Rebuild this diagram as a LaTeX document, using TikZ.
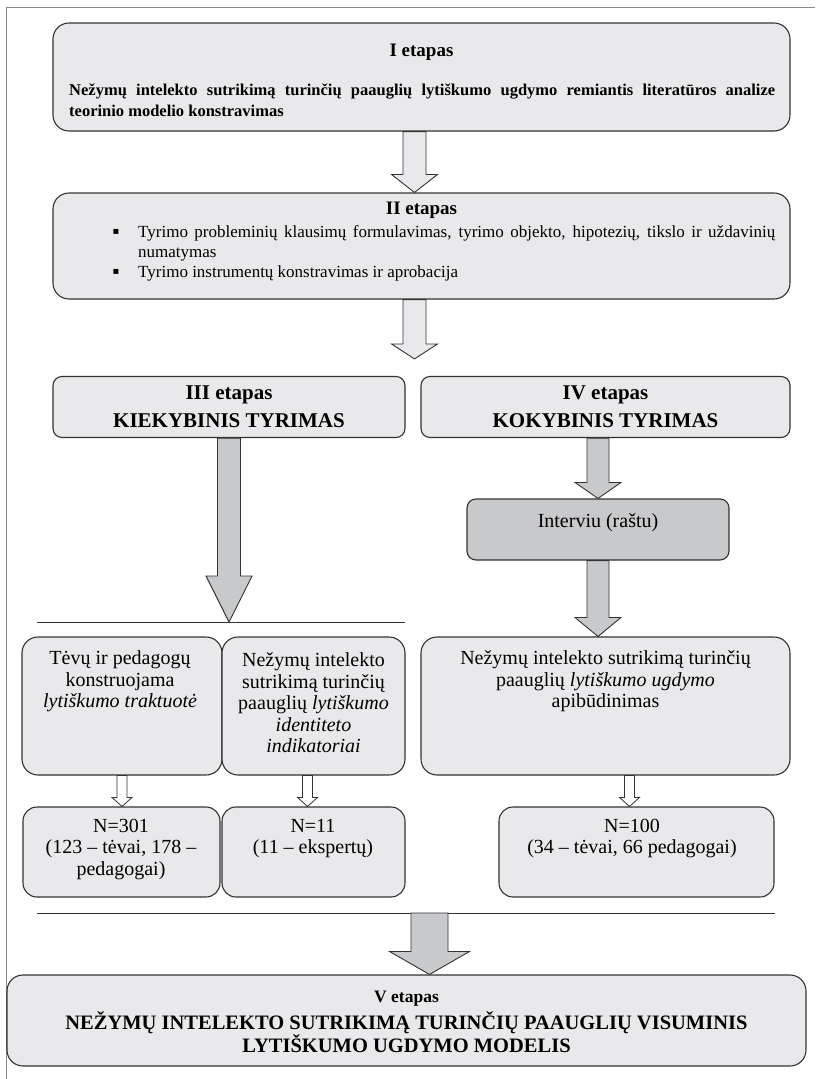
\documentclass[tikz,border=0pt]{standalone}
\usepackage{fontspec}
\setmainfont{Liberation Serif}
\newfontfamily\dejavu{DejaVu Sans}
\usetikzlibrary{calc}
\definecolor{boxfill}{HTML}{E9E9EB}
\definecolor{darkfill}{HTML}{C8C9CB}
\definecolor{edge}{HTML}{333333}
\definecolor{framec}{HTML}{8A8A8A}
\newcommand\blockarr[6]{%
  \draw[#1] let \p1=#2, \p2=#3 in
    (\x1-#4,\y1) -- (\x1-#4,\y2+#6) -- (\x1-#5,\y2+#6) -- (\x1,\y2)
    -- (\x1+#5,\y2+#6) -- (\x1+#4,\y2+#6) -- (\x1+#4,\y1) -- cycle;}
\begin{document}
\begin{tikzpicture}[x=1pt,y=-1pt,
  box/.style={draw=edge, fill=boxfill, line width=1.1pt, rounded corners=16pt, inner sep=0pt},
  sbox/.style={box, rounded corners=9pt},
  dbox/.style={box, fill=darkfill, rounded corners=9pt},
  lightarr/.style={draw=edge, fill=boxfill, line width=0.9pt},
  grayarr/.style={draw=edge, fill=darkfill, line width=0.9pt},
  whitearr/.style={draw=edge, fill=white, line width=0.8pt},
  rule/.style={draw=black!80, line width=1pt},
  titlef/.style={font=\bfseries\fontsize{19}{22}\selectfont, inner sep=0pt},
  bigtitle/.style={font=\bfseries\fontsize{21}{28}\selectfont, inner sep=0pt, align=center},
  bodyf/.style={font=\fontsize{20}{21.5}\selectfont, inner sep=0pt, align=center},
]
\useasboundingbox (0,0) rectangle (815,1079);
% page frame
\draw[framec, line width=1pt] (815,7) -- (6,7) -- (6,1079);

% Box I
\node[box, minimum width=737pt, minimum height=108pt] (b1) at (421.5,77) {};
\node[titlef] (t1) at (421.5,52) {I etapas};
\node[font=\bfseries\fontsize{16.5}{21}\selectfont, text width=706pt, align=justify, anchor=base west, inner sep=0pt] (t1b) at (69,95)
  {Nežymų intelekto sutrikimą turinčių paauglių lytiškumo ugdymo remiantis literatūros analize\linebreak teorinio modelio konstravimas};

% Box II
\node[box, minimum width=737pt, minimum height=106pt] (b2) at (421.5,246) {};
\node[titlef] (t2) at (421.5,210) {II etapas};
\node[font=\dejavu\fontsize{10}{10}\selectfont, inner sep=0pt] (bul1) at (116,232) {▪};
\node[font=\dejavu\fontsize{10}{10}\selectfont, inner sep=0pt] (bul2) at (116,272) {▪};
\node[font=\fontsize{17}{19.5}\selectfont, text width=637pt, align=justify, anchor=base west, inner sep=0pt] (t2a) at (138,237.5)
  {Tyrimo probleminių klausimų formulavimas, tyrimo objekto, hipotezių, tikslo ir uždavinių\linebreak numatymas};
\node[font=\fontsize{17}{19}\selectfont, anchor=base west, inner sep=0pt] (t2b) at (138,277.5)
  {Tyrimo instrumentų konstravimas ir aprobacija};

% Box III and IV
\node[sbox, minimum width=352pt, minimum height=61pt] (b3) at (229,407) {};
\node[bigtitle] (t3) at (229,407) {III etapas\\KIEKYBINIS TYRIMAS};
\node[sbox, minimum width=369pt, minimum height=61pt] (b4) at (605.5,407) {};
\node[bigtitle] (t4) at (605.5,407) {IV etapas\\KOKYBINIS TYRIMAS};

% Interviu
\node[dbox, minimum width=262pt, minimum height=61pt] (iv) at (598,529.5) {};
\node[bodyf] (tiv) at (598,523) {Interviu (raštu)};

% separator line 1
\coordinate (l1a) at (37,622);
\coordinate (l1b) at (405,622);
\draw[rule] (l1a) -- (l1b);

% Boxes A, B, C
\node[box, minimum width=200pt, minimum height=138pt] (ba) at (122,706) {};
\node[bodyf] (ta) at (120,681.5) {Tėvų ir pedagogų\\konstruojama\\\textit{lytiškumo traktuotė}};
\node[box, minimum width=183pt, minimum height=138pt] (bb) at (313.5,706) {};
\node[bodyf] (tb) at (313.5,703) {Nežymų intelekto\\sutrikimą turinčių\\paauglių \textit{lytiškumo}\\\textit{identiteto}\\\textit{indikatoriai}};
\node[box, minimum width=369pt, minimum height=138pt] (bc) at (605.5,706) {};
\node[bodyf] (tc) at (605.5,681.5) {Nežymų intelekto sutrikimą turinčių\\paauglių \textit{lytiškumo ugdymo}\\apibūdinimas};

% Boxes D, E, F
\node[box, rounded corners=14pt, minimum width=197pt, minimum height=90pt] (bd) at (121.5,852) {};
\node[bodyf] (td) at (121,849) {N=301\\(123 – tėvai, 178 –\\pedagogai)};
\node[box, rounded corners=14pt, minimum width=183pt, minimum height=90pt] (be) at (313.5,852) {};
\node[bodyf] (te) at (313,838.5) {N=11\\(11 – ekspertų)};
\node[box, rounded corners=14pt, minimum width=275pt, minimum height=90pt] (bf) at (636.5,852) {};
\node[bodyf] (tf) at (632,838.5) {N=100\\(34 – tėvai, 66 pedagogai)};

% separator line 2
\coordinate (l2a) at (37,913);
\coordinate (l2b) at (775,913);
\draw[rule] (l2a) -- (l2b);
\coordinate (a5s) at (429.5,913);

% Box V
\node[box, minimum width=799pt, minimum height=91pt] (b5) at (406.5,1020.5) {};
\node[font=\bfseries\fontsize{17.5}{20}\selectfont, inner sep=0pt] (t5a) at (406.5,999) {V etapas};
\node[bigtitle, font=\bfseries\fontsize{20.5}{22}\selectfont] (t5b) at (406.5,1032) {NEŽYMŲ INTELEKTO SUTRIKIMĄ TURINČIŲ PAAUGLIŲ VISUMINIS\\LYTIŠKUMO UGDYMO MODELIS};

% arrows
\blockarr{lightarr}{([xshift=-7pt]b1.south)}{([xshift=-7pt]b1.south |- b2.north)}{11.5}{23}{18}
\blockarr{lightarr}{([xshift=-7pt]b2.south)}{([xshift=-7pt,yshift=17pt]b2.south |- b3.north)}{11.5}{23}{15}
\blockarr{grayarr}{(b3.south)}{(b3.south |- l1a)}{11.5}{23}{46}
\blockarr{grayarr}{(b4.south -| iv.north)}{(iv.north)}{11}{23}{16}
\blockarr{grayarr}{(iv.south)}{(iv.south |- bc.north)}{11}{23}{19}
\blockarr{whitearr}{(ba.south)}{(ba.south |- bd.north)}{5}{10}{9}
\blockarr{whitearr}{([xshift=-6pt]bb.south)}{([xshift=-6pt]bb.south |- be.north)}{5}{10}{9}
\blockarr{whitearr}{([xshift=-7pt]bf.north |- bc.south)}{([xshift=-7pt]bf.north)}{5}{10}{9}
\blockarr{grayarr}{(a5s)}{(a5s |- b5.north)}{18.5}{40}{23}
\end{tikzpicture}
\end{document}
